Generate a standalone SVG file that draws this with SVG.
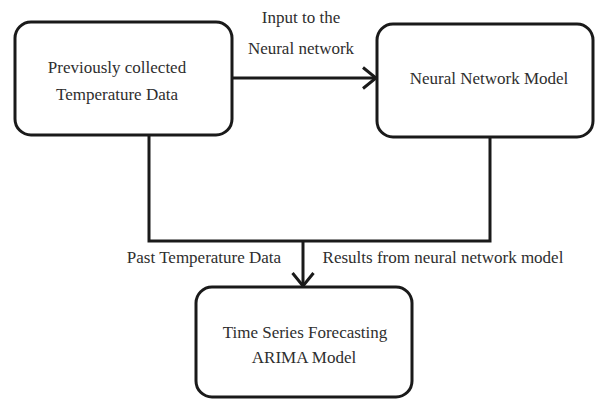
<svg xmlns="http://www.w3.org/2000/svg" width="599" height="400" viewBox="0 0 599 400">
  <style>
    .box { fill: #ffffff; stroke: #1a1a1a; stroke-width: 3; }
    .wire { fill: none; stroke: #1a1a1a; stroke-width: 3; }
    .lbl { font-family: "Liberation Serif", "Times New Roman", serif; font-size: 17px; fill: #2e2e2e; text-anchor: middle; }
  </style>
  <defs>
    <marker id="open-arrow" viewBox="0 0 16 24" refX="14.5" refY="12" markerWidth="16" markerHeight="24" markerUnits="userSpaceOnUse" orient="auto">
      <path d="M1.5,1.5 L14.5,12 L1.5,22.5" fill="none" stroke="#1a1a1a" stroke-width="3"/>
    </marker>
  </defs>
  <rect width="599" height="400" fill="#ffffff"/>

  <g id="connectors">
    <path class="wire" d="M232,78 H376" marker-end="url(#open-arrow)"/>
    <path class="wire" d="M149,135 V241 H490 V137"/>
    <path class="wire" d="M303,241 V286" marker-end="url(#open-arrow)"/>
    <text class="lbl" x="301" y="23">Input to the</text>
    <text class="lbl" x="301" y="54">Neural network</text>
    <text class="lbl" x="204" y="263">Past Temperature Data</text>
    <text class="lbl" x="443" y="263">Results from neural network model</text>
  </g>

  <g id="collected-data">
    <rect class="box" x="15" y="22" width="217" height="113" rx="16"/>
    <text class="lbl" x="117" y="73">Previously collected</text>
    <text class="lbl" x="117" y="100">Temperature Data</text>
  </g>

  <g id="neural-network">
    <rect class="box" x="377" y="24" width="216" height="113" rx="16"/>
    <text class="lbl" x="489" y="84">Neural Network Model</text>
  </g>

  <g id="arima">
    <rect class="box" x="196" y="287" width="216" height="110" rx="16"/>
    <text class="lbl" x="305" y="338">Time Series Forecasting</text>
    <text class="lbl" x="304" y="363">ARIMA Model</text>
  </g>
</svg>
